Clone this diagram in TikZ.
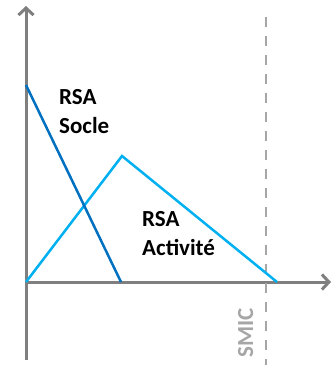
\documentclass[tikz,border=0pt]{standalone}
\usepackage{fontspec}
\setmainfont{Carlito}
\usetikzlibrary{arrows.meta}
\definecolor{AxisGray}{HTML}{7F7F7F}
\definecolor{SmicGray}{HTML}{A6A6A6}
\definecolor{SocleBlue}{HTML}{0070C0}
\definecolor{ActBlue}{HTML}{00B0F0}

\begin{document}
\begin{tikzpicture}[x=1pt,y=-1pt]
\useasboundingbox (0,0) rectangle (333,365);
\coordinate (O) at (26, 282);
\coordinate (Y_top) at (26, 6);
\coordinate (Y_bot) at (26, 360);
\coordinate (X_end) at (331, 282);
\coordinate (S_1) at (26, 85);
\coordinate (S_2) at (121, 282);
\coordinate (A_1) at (122, 156);
\coordinate (A_2) at (277, 282);
\coordinate (M_1) at (266, 17);
\coordinate (M_2) at (266, 365);


\tikzset{AxisStyle/.style = {AxisGray, line width=3pt,
 -{Straight Barb[length=7pt, width=15pt, line width=3pt]}} }

\draw[ AxisStyle] (Y_bot) -- (Y_top);
\draw[ AxisStyle] (O) -- (X_end);
\draw[ SmicGray, line width=2.5pt, dash pattern=on 10pt off 9pt] (M_1) -- (M_2);

\tikzset{CurveStyle/.style = {line width=2.5pt, line join=miter} }

\draw[ CurveStyle, ActBlue] (O) -- (A_1) -- (A_2);
\draw[ CurveStyle, SocleBlue] (S_1) -- (S_2);


\tikzset{LabelStyle/.style = {
 font = \fontsize{23}{29.5}\selectfont\bfseries,
 text = black,
 align = left,
 inner sep = 0pt,
 anchor = north west} }

\node[LabelStyle] (L_socle) at (59, 89) {RSA\\Socle};
\node[LabelStyle] (L_act) at (142, 211) {RSA\\Activité};
\node[LabelStyle, text=SmicGray, rotate=90, anchor=base] (L_smic) at (253, 333) {SMIC};

\end{tikzpicture}
\end{document}
